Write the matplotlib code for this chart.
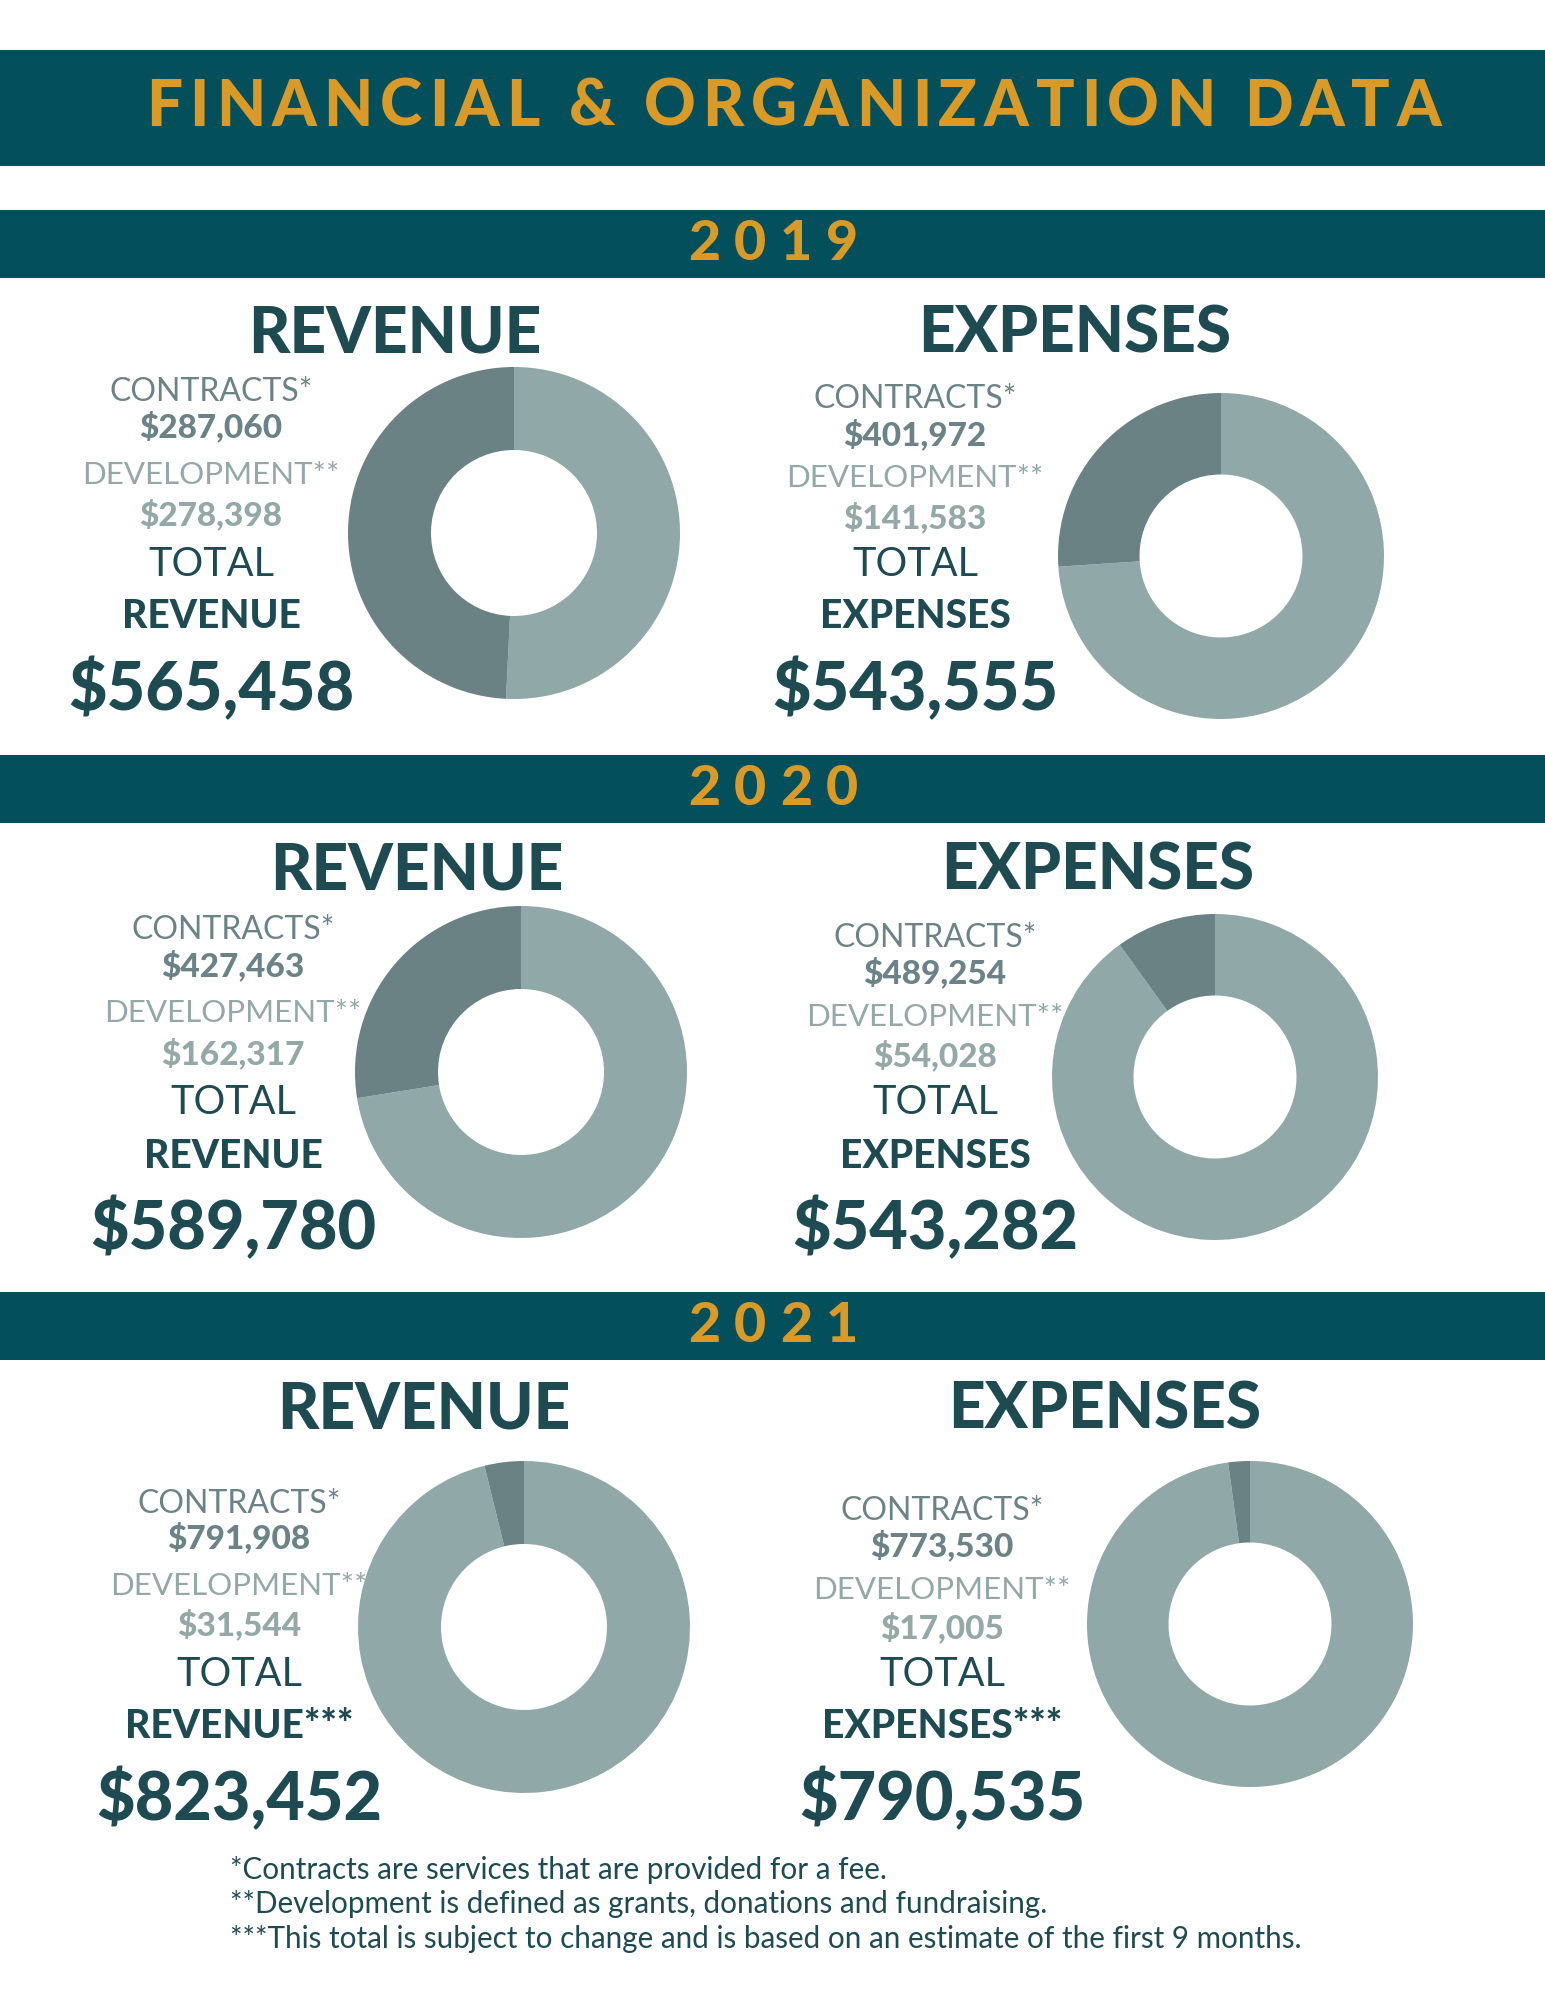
import matplotlib.pyplot as plt
from matplotlib.patches import Rectangle

W, H = 1545, 2000

# data
years = ["2019", "2020", "2021"]
revenue_contracts = [287060, 427463, 791908]
revenue_development = [278398, 162317, 31544]
revenue_total = [565458, 589780, 823452]
expense_contracts = [401972, 489254, 773530]
expense_development = [141583, 54028, 17005]
expense_total = [543555, 543282, 790535]
total_marks = ["", "", "***"]
footnotes = [
    "*Contracts are services that are provided for a fee.",
    "**Development is defined as grants, donations and fundraising.",
    "***This total is subject to change and is based on an estimate of the first 9 months.",
]

BAND = "#03505c"
GOLD = "#d99a27"
DARK = "#1e4a51"
MID = "#6b8387"
LIGHT = "#93a8a7"
SLICE_LIGHT = "#90a8a7"
SLICE_DARK = "#6b8285"

# layout in pixels: band tops, and for every panel heading/text/donut spots
band_tops = [210, 755, 1292]
panels = [
    # (heading x, heading y, text cx, line ys, donut cx, cy, r)
    [(395, 334, 211, [392, 426, 475, 514, 564, 617, 690], 514, 533, 166),
     (1075, 334, 915, [399, 434, 478, 517, 564, 617, 690], 1221, 556, 163)],
    [(417, 871, 233, [930, 965, 1013, 1053, 1102, 1156, 1229], 521, 1072, 166),
     (1098, 871, 935, [938, 972, 1017, 1055, 1102, 1156, 1229], 1215, 1077, 163)],
    [(424, 1410, 239, [1504, 1537, 1586, 1624, 1674, 1727, 1800], 524, 1627, 166),
     (1105, 1410, 942, [1511, 1545, 1590, 1627, 1674, 1727, 1800], 1250, 1624, 163)],
]

fig = plt.figure(figsize=(W / 100, H / 100), dpi=100)
ax = fig.add_axes([0, 0, 1, 1])
ax.set_xlim(0, W)
ax.set_ylim(H, 0)
ax.axis("off")
renderer = fig.canvas.get_renderer()


def spaced_text(s, cx, y, width, **kw):
    # draw letters one by one so the tracking can be spread out
    sizes = []
    for ch in s:
        t = ax.text(0, 0, ch, **kw)
        sizes.append(t.get_window_extent(renderer).width)
        t.remove()
    gap = (width - sum(sizes)) / (len(s) - 1)
    x = cx - width / 2
    for ch, w in zip(s, sizes):
        ax.text(x, y, ch, ha="left", va="center", **kw)
        x += w + gap


def money(v):
    return "${:,}".format(v)


head = dict(family="Lato", weight="black", color=GOLD)

# title band
ax.add_patch(Rectangle((0, 50), W, 116, color=BAND, lw=0))
spaced_text("FINANCIAL & ORGANIZATION DATA", 794, 107, 1295, fontsize=46, **head)

for i, year in enumerate(years):
    top = band_tops[i]
    ax.add_patch(Rectangle((0, top), W, 68, color=BAND, lw=0))
    spaced_text(year, 773, top + 34, 170, fontsize=40, **head)

    blocks = [
        ("REVENUE", revenue_contracts[i], revenue_development[i], revenue_total[i]),
        ("EXPENSES", expense_contracts[i], expense_development[i], expense_total[i]),
    ]
    for (name, con, dev, tot), (hx, hy, tx, ys, dx, dy, r) in zip(blocks, panels[i]):
        ax.text(hx, hy, name, ha="center", va="center", fontsize=46,
                family="Lato", weight="black", color=DARK)

        lines = [
            ("CONTRACTS*", 23, "normal", MID),
            (money(con), 24, "black", MID),
            ("DEVELOPMENT**", 22.5, "normal", LIGHT),
            (money(dev), 24, "black", LIGHT),
            ("TOTAL", 28.5, "normal", DARK),
            (name + total_marks[i], 28, "black", DARK),
            (money(tot), 48, "black", DARK),
        ]
        for (txt, fs, wt, col), y in zip(lines, ys):
            ax.text(tx, y, txt, ha="center", va="center", fontsize=fs,
                    family="Lato", weight=wt, color=col)

        pax = fig.add_axes([(dx - r) / W, 1 - (dy + r) / H, 2 * r / W, 2 * r / H])
        pax.pie([con, dev], colors=[SLICE_LIGHT, SLICE_DARK], startangle=90,
                counterclock=False, radius=1,
                wedgeprops=dict(width=0.5, edgecolor="none"))
        pax.set_xlim(-1, 1)
        pax.set_ylim(-1, 1)
        pax.axis("off")

for k, note in enumerate(footnotes):
    ax.text(230, 1870 + 34.5 * k, note, ha="left", va="center", fontsize=21.3,
            family="Lato", color=DARK)

fig.savefig("out.png", dpi=100, facecolor="white")
